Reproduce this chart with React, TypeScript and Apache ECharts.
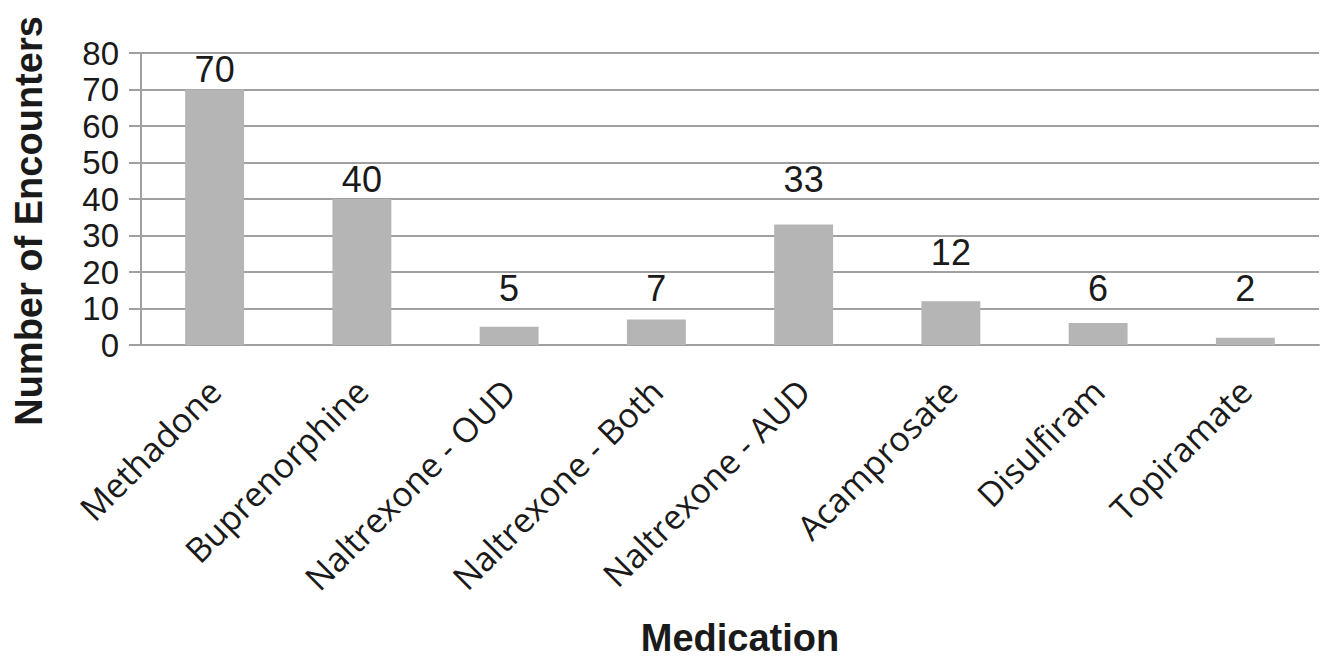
import React, { useEffect, useRef } from "react";
import * as echarts from "echarts";

const categories = [
  "Methadone",
  "Buprenorphine",
  "Naltrexone - OUD",
  "Naltrexone - Both",
  "Naltrexone - AUD",
  "Acamprosate",
  "Disulfiram",
  "Topiramate",
];
const encounters = [70, 40, 5, 7, 33, 12, 6, 2];
const yTicks = { min: 0, max: 80, interval: 10 };
const xTitle = "Medication";
const yTitle = "Number of Encounters";

export default function App() {
  const ref = useRef<HTMLDivElement>(null);
  useEffect(() => {
    if (!ref.current) return;
    const chart = echarts.init(ref.current, undefined, { renderer: "svg" });
    // labels in the reference sit just above the next gridline at or above each bar
    const labelPoints = encounters.map((v, i) => [
      i,
      Math.ceil(v / yTicks.interval) * yTicks.interval,
      v,
    ]);
    chart.setOption({
      animation: false,
      backgroundColor: "#ffffff",
      grid: { left: 141, right: 9, top: 53, bottom: 315, containLabel: false },
      xAxis: {
        type: "category",
        data: categories,
        axisLine: { show: true, lineStyle: { color: "#a0a0a0", width: 2 } },
        axisTick: { show: false },
        axisLabel: {
          rotate: 45,
          interval: 0,
          margin: 40,
          fontFamily: "Open Sans",
          fontSize: 34,
          color: "#1a1a1a",
        },
      },
      yAxis: {
        type: "value",
        min: yTicks.min,
        max: yTicks.max,
        interval: yTicks.interval,
        axisLine: { show: true, lineStyle: { color: "#a0a0a0", width: 2 } },
        axisTick: { show: true, length: 12, lineStyle: { color: "#a0a0a0", width: 2 } },
        splitLine: { show: true, lineStyle: { color: "#a0a0a0", width: 2 } },
        axisLabel: {
          margin: 22,
          fontFamily: "Liberation Sans",
          fontSize: 33,
          color: "#1a1a1a",
        },
      },
      series: [
        {
          type: "bar",
          data: encounters,
          barWidth: "40%",
          itemStyle: { color: "#b5b5b5" },
        },
        {
          type: "scatter",
          data: labelPoints,
          symbolSize: 0,
          silent: true,
          itemStyle: { opacity: 1, color: "#1a1a1a" },
          label: {
            show: true,
            position: "top",
            distance: 2,
            opacity: 1,
            formatter: (p: any) => String(p.value[2]),
            fontFamily: "Liberation Sans",
            fontSize: 36,
            color: "#1a1a1a",
          },
        },
      ],
      graphic: [
        {
          type: "text",
          x: 740,
          y: 638,
          style: {
            text: xTitle,
            fontFamily: "Liberation Sans",
            fontWeight: "bold",
            fontSize: 38,
            fill: "#1a1a1a",
            textAlign: "center",
            textVerticalAlign: "middle",
          },
        },
        {
          type: "text",
          x: 29,
          y: 221,
          rotation: Math.PI / 2,
          style: {
            text: yTitle,
            fontFamily: "Liberation Sans",
            fontWeight: "bold",
            fontSize: 38,
            fill: "#1a1a1a",
            textAlign: "center",
            textVerticalAlign: "middle",
          },
        },
      ],
    });
    return () => chart.dispose();
  }, []);
  return (
    <div
      ref={ref}
      style={{ position: "fixed", left: 0, top: 0, width: 1328, height: 660 }}
    />
  );
}
